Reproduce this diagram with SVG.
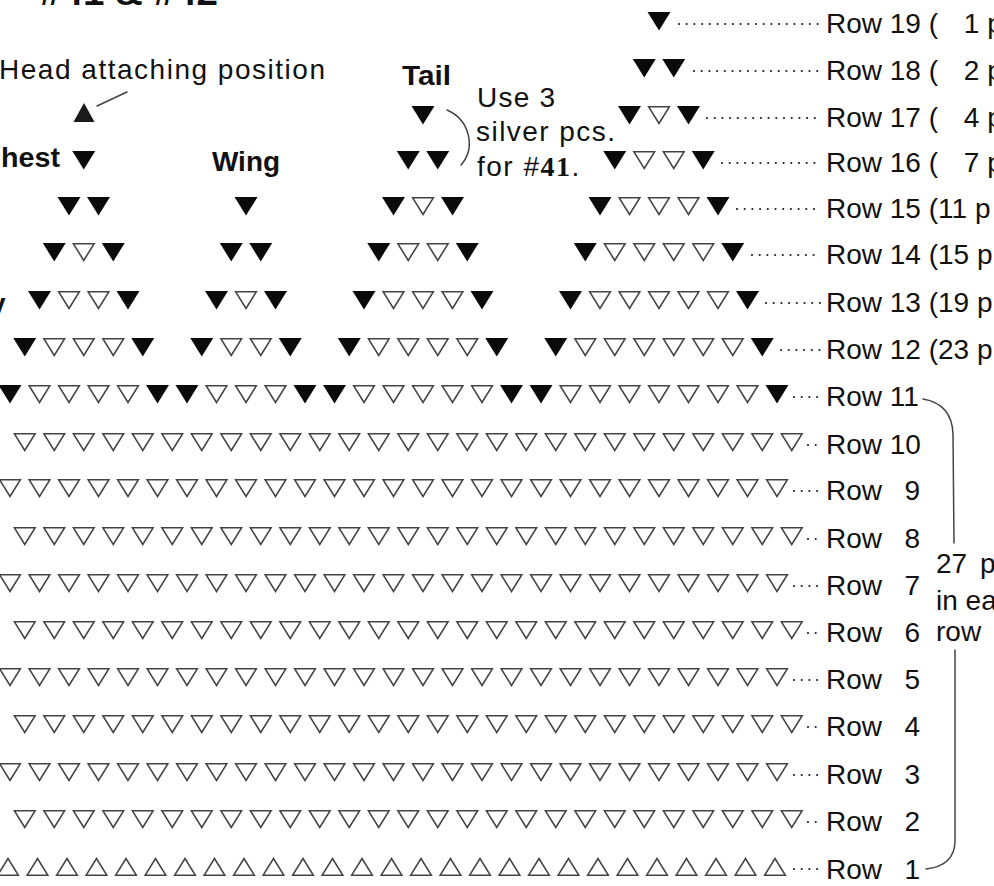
<svg xmlns="http://www.w3.org/2000/svg" xmlns:xlink="http://www.w3.org/1999/xlink" width="994" height="886" viewBox="0 0 994 886">
<style>
text{font-family:"Liberation Sans",Arial,Helvetica,sans-serif;fill:#111}
.lbl{font-size:28px}
.b{font-weight:bold}
.o{fill:#fff;stroke:#444;stroke-width:1.6}
.f{fill:#0a0a0a}
.dots{stroke:#222;stroke-width:2.2;stroke-linecap:round;stroke-dasharray:0 7.7;fill:none}
.con{fill:none;stroke:#444;stroke-width:1.5;stroke-linecap:round}
</style>
<defs>
<polygon id="F" class="f" points="-11.5,0 11.5,0 0,18.5"/>
<polygon id="O" class="o" points="-10.3,0.8 10.3,0.8 0,17.4"/>
<g id="rowI">
<use href="#O" x="10"/><use href="#O" x="39.5"/><use href="#O" x="69"/><use href="#O" x="98.5"/><use href="#O" x="128"/><use href="#O" x="157.5"/><use href="#O" x="187"/><use href="#O" x="216.5"/><use href="#O" x="246"/><use href="#O" x="275.5"/><use href="#O" x="305"/><use href="#O" x="334.5"/><use href="#O" x="364"/><use href="#O" x="393.5"/><use href="#O" x="423"/><use href="#O" x="452.5"/><use href="#O" x="482"/><use href="#O" x="511.5"/><use href="#O" x="541"/><use href="#O" x="570.5"/><use href="#O" x="600"/><use href="#O" x="629.5"/><use href="#O" x="659"/><use href="#O" x="688.5"/><use href="#O" x="718"/><use href="#O" x="747.5"/><use href="#O" x="777"/>
</g>
</defs>
<rect width="994" height="886" fill="#fff"/>

<g id="title"><text class="b" x="40" y="5" font-size="36" textLength="178" lengthAdjust="spacingAndGlyphs">#41 &amp; #42</text></g>

<g id="labels">
<text class="lbl" x="-1" y="79" font-size="27" textLength="326" lengthAdjust="spacing">Head attaching position</text>
<text class="lbl b" x="1" y="167" textLength="59" lengthAdjust="spacingAndGlyphs">hest</text>
<text class="lbl b" x="212" y="171" textLength="68" lengthAdjust="spacingAndGlyphs">Wing</text>
<text class="lbl b" x="402" y="85" textLength="49" lengthAdjust="spacingAndGlyphs">Tail</text>
<text class="lbl b" x="-10" y="313">y</text>
</g>

<g id="note">
<text class="lbl" x="477" y="107" textLength="78" lengthAdjust="spacing">Use 3</text>
<text class="lbl" x="476" y="141" textLength="139" lengthAdjust="spacing">silver pcs.</text>
<text class="lbl" x="477" y="176" letter-spacing="1.5">for #<tspan font-family="Liberation Serif,Times New Roman,serif" font-weight="bold">41</tspan>.</text>
</g>

<g id="head">
<polygon points="73.5,122 94.5,122 84,103" fill="#1a1a1a"/>
</g>

<g id="row19"><g transform="translate(0,12)"><use href="#F" x="659"/></g></g>
<g id="row18"><g transform="translate(0,59)"><use href="#F" x="644.25"/><use href="#F" x="673.75"/></g></g>
<g id="row17"><g transform="translate(0,106)"><use href="#F" x="423"/><use href="#F" x="629.5"/><use href="#O" x="659"/><use href="#F" x="688.5"/></g></g>
<g id="row16"><g transform="translate(0,151)"><use href="#F" x="83.75"/><use href="#F" x="408.25"/><use href="#F" x="437.75"/><use href="#F" x="614.75"/><use href="#O" x="644.25"/><use href="#O" x="673.75"/><use href="#F" x="703.25"/></g></g>
<g id="row15"><g transform="translate(0,197)"><use href="#F" x="69"/><use href="#F" x="98.5"/><use href="#F" x="246"/><use href="#F" x="393.5"/><use href="#O" x="423"/><use href="#F" x="452.5"/><use href="#F" x="600"/><use href="#O" x="629.5"/><use href="#O" x="659"/><use href="#O" x="688.5"/><use href="#F" x="718"/></g></g>
<g id="row14"><g transform="translate(0,243)"><use href="#F" x="54.25"/><use href="#O" x="83.75"/><use href="#F" x="113.25"/><use href="#F" x="231.25"/><use href="#F" x="260.75"/><use href="#F" x="378.75"/><use href="#O" x="408.25"/><use href="#O" x="437.75"/><use href="#F" x="467.25"/><use href="#F" x="585.25"/><use href="#O" x="614.75"/><use href="#O" x="644.25"/><use href="#O" x="673.75"/><use href="#O" x="703.25"/><use href="#F" x="732.75"/></g></g>
<g id="row13"><g transform="translate(0,291)"><use href="#F" x="39.5"/><use href="#O" x="69"/><use href="#O" x="98.5"/><use href="#F" x="128"/><use href="#F" x="216.5"/><use href="#O" x="246"/><use href="#F" x="275.5"/><use href="#F" x="364"/><use href="#O" x="393.5"/><use href="#O" x="423"/><use href="#O" x="452.5"/><use href="#F" x="482"/><use href="#F" x="570.5"/><use href="#O" x="600"/><use href="#O" x="629.5"/><use href="#O" x="659"/><use href="#O" x="688.5"/><use href="#O" x="718"/><use href="#F" x="747.5"/></g></g>
<g id="row12"><g transform="translate(0,338)"><use href="#F" x="24.75"/><use href="#O" x="54.25"/><use href="#O" x="83.75"/><use href="#O" x="113.25"/><use href="#F" x="142.75"/><use href="#F" x="201.75"/><use href="#O" x="231.25"/><use href="#O" x="260.75"/><use href="#F" x="290.25"/><use href="#F" x="349.25"/><use href="#O" x="378.75"/><use href="#O" x="408.25"/><use href="#O" x="437.75"/><use href="#O" x="467.25"/><use href="#F" x="496.75"/><use href="#F" x="555.75"/><use href="#O" x="585.25"/><use href="#O" x="614.75"/><use href="#O" x="644.25"/><use href="#O" x="673.75"/><use href="#O" x="703.25"/><use href="#O" x="732.75"/><use href="#F" x="762.25"/></g></g>
<g id="row11"><g transform="translate(0,385)"><use href="#F" x="10"/><use href="#O" x="39.5"/><use href="#O" x="69"/><use href="#O" x="98.5"/><use href="#O" x="128"/><use href="#F" x="157.5"/><use href="#F" x="187"/><use href="#O" x="216.5"/><use href="#O" x="246"/><use href="#O" x="275.5"/><use href="#F" x="305"/><use href="#F" x="334.5"/><use href="#O" x="364"/><use href="#O" x="393.5"/><use href="#O" x="423"/><use href="#O" x="452.5"/><use href="#O" x="482"/><use href="#F" x="511.5"/><use href="#F" x="541"/><use href="#O" x="570.5"/><use href="#O" x="600"/><use href="#O" x="629.5"/><use href="#O" x="659"/><use href="#O" x="688.5"/><use href="#O" x="718"/><use href="#O" x="747.5"/><use href="#F" x="777"/></g></g>
<g id="row10"><use href="#rowI" x="14.75" y="433"/></g>
<g id="row9"><use href="#rowI" y="479"/></g>
<g id="row8"><use href="#rowI" x="14.75" y="527"/></g>
<g id="row7"><use href="#rowI" y="574"/></g>
<g id="row6"><use href="#rowI" x="14.75" y="621"/></g>
<g id="row5"><use href="#rowI" y="668"/></g>
<g id="row4"><use href="#rowI" x="14.75" y="715"/></g>
<g id="row3"><use href="#rowI" y="763"/></g>
<g id="row2"><use href="#rowI" x="14.75" y="810"/></g>
<g id="row1"><use href="#rowI" transform="translate(-2,876) scale(1,-1)"/></g>

<g id="rowlabels">
<text class="lbl" x="826" y="32.5">Row 19 (<tspan x="956"> 1 p</tspan></text>
<text class="lbl" x="826" y="79.5">Row 18 (<tspan x="956"> 2 p</tspan></text>
<text class="lbl" x="826" y="126.5">Row 17 (<tspan x="956"> 4 p</tspan></text>
<text class="lbl" x="826" y="171.5">Row 16 (<tspan x="956"> 7 p</tspan></text>
<text class="lbl" x="826" y="217.5">Row 15 (11 p</text>
<text class="lbl" x="826" y="263.5">Row 14 (15 p</text>
<text class="lbl" x="826" y="311.5">Row 13 (19 p</text>
<text class="lbl" x="826" y="358.5">Row 12 (23 p</text>
<text class="lbl" x="826" y="405.5">Row 11</text>
<text class="lbl" x="826" y="453.5">Row 10</text>
<text class="lbl" x="826" y="499.5">Row <tspan x="904.5">9</tspan></text>
<text class="lbl" x="826" y="547.5">Row <tspan x="904.5">8</tspan></text>
<text class="lbl" x="826" y="594.5">Row <tspan x="904.5">7</tspan></text>
<text class="lbl" x="826" y="641.5">Row <tspan x="904.5">6</tspan></text>
<text class="lbl" x="826" y="688.5">Row <tspan x="904.5">5</tspan></text>
<text class="lbl" x="826" y="735.5">Row <tspan x="904.5">4</tspan></text>
<text class="lbl" x="826" y="783.5">Row <tspan x="904.5">3</tspan></text>
<text class="lbl" x="826" y="830.5">Row <tspan x="904.5">2</tspan></text>
<text class="lbl" x="826" y="878.5">Row <tspan x="904.5">1</tspan></text>
</g>

<g id="count">
<text class="lbl" x="936" y="573" word-spacing="5">27 p</text>
<text class="lbl" x="936" y="610">in ea</text>
<text class="lbl" x="936" y="641">row</text>
</g>

<g id="connectors">
<line class="dots" x1="679" y1="24" x2="821" y2="24"/>
<line class="dots" x1="694" y1="71" x2="821" y2="71"/>
<line class="dots" x1="707" y1="118" x2="821" y2="118"/>
<line class="dots" x1="722" y1="163" x2="821" y2="163"/>
<line class="dots" x1="737" y1="209" x2="821" y2="209"/>
<line class="dots" x1="752" y1="255" x2="821" y2="255"/>
<line class="dots" x1="766" y1="303" x2="821" y2="303"/>
<line class="dots" x1="781" y1="350" x2="821" y2="350"/>
<line class="dots" x1="794" y1="397" x2="821" y2="397"/>
<line class="dots" x1="808" y1="445" x2="821" y2="445"/>
<line class="dots" x1="794" y1="491" x2="821" y2="491"/>
<line class="dots" x1="808" y1="539" x2="821" y2="539"/>
<line class="dots" x1="794" y1="586" x2="821" y2="586"/>
<line class="dots" x1="808" y1="633" x2="821" y2="633"/>
<line class="dots" x1="794" y1="680" x2="821" y2="680"/>
<line class="dots" x1="808" y1="727" x2="821" y2="727"/>
<line class="dots" x1="794" y1="775" x2="821" y2="775"/>
<line class="dots" x1="808" y1="822" x2="821" y2="822"/>
<line class="dots" x1="794" y1="869" x2="821" y2="869"/>
<path class="con" d="M127,92 L97,106" stroke-width="1.2"/>
<path class="con" d="M447,110 C470,120 476,148 461,165" stroke-width="1.3"/>
<path class="con" d="M923,399 Q952,404 953,434 L954,543"/>
<path class="con" d="M955,650 L955,842 Q954,866 926,869"/>
</g>
</svg>
